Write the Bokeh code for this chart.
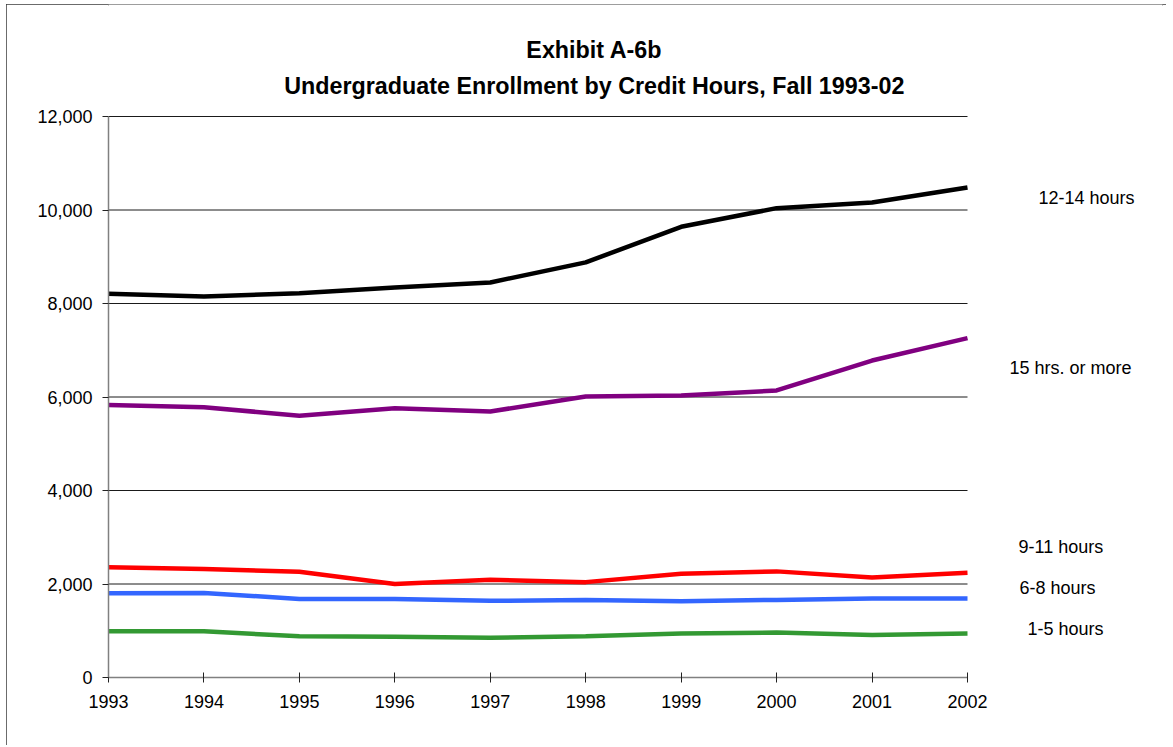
from bokeh.plotting import figure
from bokeh.models import Range1d, FixedTicker, NumeralTickFormatter
from bokeh.core.properties import value
from bokeh.embed import file_html
from bokeh.resources import INLINE

# ---- data ----
years = [1993, 1994, 1995, 1996, 1997, 1998, 1999, 2000, 2001, 2002]
hrs_12_14 = [8210, 8150, 8220, 8340, 8450, 8880, 9640, 10040, 10160, 10480]
hrs_15_plus = [5830, 5780, 5600, 5760, 5690, 6010, 6030, 6140, 6780, 7260]
hrs_9_11 = [2360, 2320, 2260, 2000, 2090, 2040, 2220, 2270, 2140, 2240]
hrs_6_8 = [1800, 1810, 1680, 1680, 1640, 1660, 1630, 1660, 1690, 1690]
hrs_1_5 = [990, 990, 880, 870, 850, 880, 940, 960, 910, 940]
series_names = ["12-14 hours", "15 hrs. or more", "9-11 hours", "6-8 hours", "1-5 hours"]
y_ticks = [0, 2000, 4000, 6000, 8000, 10000, 12000]
title_lines = ["Exhibit A-6b", "Undergraduate Enrollment by Credit Hours, Fall 1993-02"]

FONT = "Liberation Sans"
X0, X1 = years[0], years[-1]
Y0, Y1 = y_ticks[0], y_ticks[-1]

# frame extended right/top so labels & title live inside it
PX_X = (X1 - X0) / 859.0     # years per pixel
PX_Y = (Y1 - Y0) / 561.0     # units per pixel
x_end = X1 + 195 * PX_X
y_end = Y1 + 112 * PX_Y

p = figure(width=1160, height=741, output_backend="svg", toolbar_location=None,
           x_range=Range1d(X0, x_end), y_range=Range1d(Y0, y_end),
           min_border_left=102, min_border_right=4, min_border_top=0,
           min_border_bottom=68)
p.outline_line_color = None
p.background_fill_color = "white"
p.border_fill_color = "white"
p.styles = {"margin-left": "6px", "margin-top": "4px",
            "outline": "2px solid #3a3a3a", "outline-offset": "-2px"}

# axes
p.xaxis.ticker = FixedTicker(ticks=years)
p.yaxis.ticker = FixedTicker(ticks=y_ticks)
p.yaxis.formatter = NumeralTickFormatter(format="0,0")
p.xaxis.bounds = (X0, X1)
p.yaxis.bounds = (Y0, Y1)
for ax in (p.xaxis[0], p.yaxis[0]):
    ax.axis_line_color = "#808080"
    ax.axis_line_width = 1.5
    ax.major_tick_line_color = "#222222"
    ax.minor_tick_line_color = None
    ax.major_label_text_font = FONT
    ax.major_label_text_font_size = "18px"
    ax.major_label_text_color = "black"
p.xaxis.major_tick_in = 5
p.xaxis.major_tick_out = 5
p.xaxis.major_label_standoff = 12
p.yaxis.major_tick_in = 0
p.yaxis.major_tick_out = 6
p.yaxis.major_label_standoff = 10

p.xgrid.grid_line_color = None
p.ygrid.grid_line_color = None

# horizontal gridlines only over the plot area
gy = y_ticks[1:]
p.segment(x0=[X0] * len(gy), y0=gy, x1=[X1] * len(gy), y1=gy,
          line_color="#1a1a1a", line_width=1)

# lines
colors = ["#000000", "#800080", "#FF0000", "#3366FF", "#339933"]
all_series = [hrs_12_14, hrs_15_plus, hrs_9_11, hrs_6_8, hrs_1_5]
for vals, col in reversed(list(zip(all_series, colors))):
    p.line(years, vals, line_color=col, line_width=4.5)

# right-side series labels
label_x = [2002.744, 2002.44, 2002.534, 2002.545, 2002.628]
label_y = [10267, 6631, 2802, 1925, 1048]
p.text(x=label_x, y=label_y, text=series_names, text_font=value(FONT),
       text_font_size=value("18px"), text_color="black",
       text_align="left", text_baseline="middle")

# titles
p.text(x=[1998.09, 1998.09], y=[13412, 12663], text=title_lines,
       text_font=value(FONT), text_font_size=value("23.3px"),
       text_font_style="bold", text_color="black",
       text_align="center", text_baseline="middle")

open("out.html", "w").write(file_html(p, INLINE))
